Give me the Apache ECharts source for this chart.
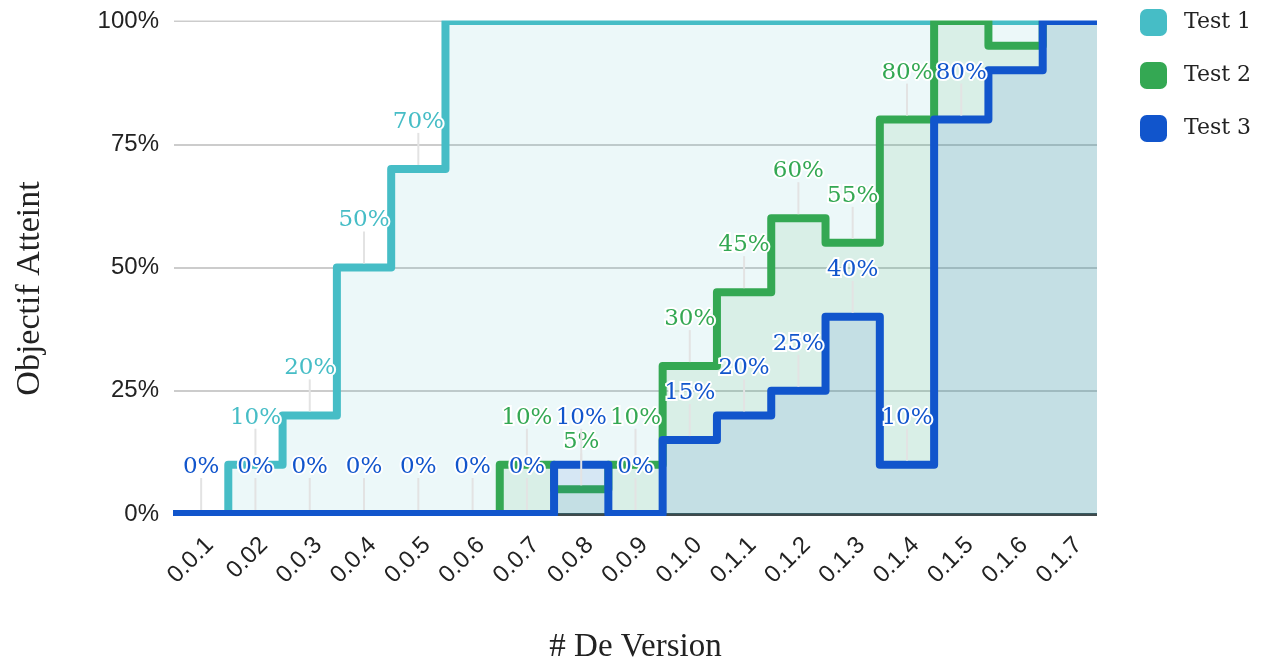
<!DOCTYPE html>
<html>
<head>
<meta charset="utf-8">
<script src="https://cdn.jsdelivr.net/npm/echarts@6/dist/echarts.min.js"></script>
<style>
  html, body { margin: 0; padding: 0; background: #ffffff; }
  #chart { width: 1275px; height: 664px; }
</style>
</head>
<body>
<div id="chart"></div>
<script>
// Versions along the x axis
const versions = ['0.0.1', '0.02', '0.0.3', '0.0.4', '0.0.5', '0.0.6', '0.0.7', '0.0.8', '0.0.9',
                  '0.1.0', '0.1.1', '0.1.2', '0.1.3', '0.1.4', '0.1.5', '0.1.6', '0.1.7'];

// Share of the objective reached (%) per version
const test1 = [0, 10, 20, 50, 70, 100, 100, 100, 100, 100, 100, 100, 100, 100, 100, 100, 100];
const test2 = [0, 0, 0, 0, 0, 0, 10, 5, 10, 30, 45, 60, 55, 80, 100, 95, 100];
const test3 = [0, 0, 0, 0, 0, 0, 0, 10, 0, 15, 20, 25, 40, 10, 80, 90, 100];

const seriesNames = ['Test 1', 'Test 2', 'Test 3'];
const seriesColors = ['#46bdc6', '#34a853', '#1155cc'];
const yTicks = [0, 25, 50, 75, 100];

const allValues = [test1, test2, test3];
const labelFont = '"DejaVu Serif", "Liberation Serif", serif';

// Plot area layout (pixels)
const W = 1275, H = 664;
const gridBox = { left: 174, right: 178, top: 21, bottom: 150 };
const plotL = gridBox.left, plotR = W - gridBox.right;
const plotT = gridBox.top, plotB = H - gridBox.bottom;

// Step path: each version holds its value across its whole band,
// so the first and last values are repeated at the band edges.
function stepData(values) {
  const pts = values.map((v, i) => [i, v]);
  pts.unshift([-0.5, values[0]]);
  pts.push([values.length - 0.5, values[values.length - 1]]);
  return pts;
}

// A value label is kept unless a later series repeats the same value
// at that version, or the value sits against the top of the plot.
function labelData(k) {
  const values = allValues[k];
  const out = [];
  values.forEach((v, i) => {
    if (v >= 90) return;
    for (let j = k + 1; j < allValues.length; j++) {
      if (allValues[j][i] === v) return;
    }
    out.push([i, v]);
  });
  return out;
}

const series = [];
allValues.forEach((values, k) => {
  series.push({
    name: seriesNames[k],
    type: 'line',
    xAxisIndex: 1,
    step: 'middle',
    data: stepData(values),
    showSymbol: false,
    symbol: 'none',
    color: seriesColors[k],
    lineStyle: { width: 8, color: seriesColors[k], join: 'round', cap: 'round' },
    areaStyle: { color: seriesColors[k], opacity: 0.1 },
    z: 2 + k
  });
});

allValues.forEach((values, k) => {
  const color = seriesColors[k];
  series.push({
    name: seriesNames[k] + ' labels',
    type: 'custom',
    xAxisIndex: 1,
    data: labelData(k),
    encode: { x: 0, y: 1 },
    z: 10 + k,
    renderItem: function (params, api) {
      const v = api.value(1);
      const pt = api.coord([api.value(0), v]);
      return {
        type: 'group',
        children: [
          {
            type: 'line',
            shape: { x1: pt[0], y1: pt[1] - 36, x2: pt[0], y2: pt[1] - 4 },
            style: { stroke: '#e3e3e3', lineWidth: 2 },
            z2: 0
          },
          {
            type: 'text',
            x: pt[0],
            y: pt[1] - 47,
            style: {
              text: v + '%',
              fill: color,
              font: '23px ' + labelFont,
              align: 'center',
              verticalAlign: 'middle',
              stroke: '#ffffff',
              lineWidth: 4
            },
            z2: 10
          }
        ]
      };
    }
  });
});

// White frame that trims the thick step lines to the plot rectangle
const trim = { type: 'rect', z: 6, silent: true, style: { fill: '#ffffff' } };
const frame = [
  Object.assign({}, trim, { shape: { x: plotL - 10, y: 0, width: plotR - plotL + 20, height: plotT - 0.5 } }),
  Object.assign({}, trim, { shape: { x: plotL - 10, y: 0, width: 9, height: plotB + 8 } }),
  Object.assign({}, trim, { shape: { x: plotR, y: 0, width: 10, height: plotB + 8 } }),
  Object.assign({}, trim, { shape: { x: plotL - 10, y: plotB + 2, width: plotR - plotL + 20, height: 6 } })
];

const chart = echarts.init(document.getElementById('chart'), null, { renderer: 'canvas' });
chart.setOption({
  animation: false,
  backgroundColor: '#ffffff',
  grid: Object.assign({ outerBoundsMode: 'none', containLabel: false }, gridBox),
  graphic: frame,
  legend: {
    data: seriesNames.map((n, k) => ({ name: n, itemStyle: { color: seriesColors[k] } })),
    orient: 'vertical',
    left: 1140,
    top: 9,
    padding: 0,
    icon: 'roundRect',
    itemWidth: 27,
    itemHeight: 27,
    itemGap: 26,
    selectedMode: false,
    z: 20,
    textStyle: {
      fontFamily: labelFont,
      fontSize: 22,
      color: '#222222',
      padding: [0, 0, 0, 12]
    }
  },
  xAxis: [
    {
      type: 'category',
      data: versions,
      boundaryGap: true,
      name: '# De Version',
      nameLocation: 'middle',
      nameGap: 117,
      nameTextStyle: { fontFamily: '"Liberation Serif", serif', fontSize: 33, color: '#222222' },
      axisLine: { show: true, lineStyle: { color: '#3f4a4c', width: 3 } },
      axisTick: { show: false },
      splitLine: { show: false },
      axisLabel: {
        rotate: 45,
        interval: 0,
        margin: 19,
        verticalAlign: 'top',
        fontFamily: '"Liberation Sans", Arial, sans-serif',
        fontSize: 24,
        color: '#222222'
      }
    },
    {
      type: 'value',
      min: -0.5,
      max: versions.length - 0.5,
      show: false
    }
  ],
  yAxis: {
    type: 'value',
    min: yTicks[0],
    max: yTicks[yTicks.length - 1],
    interval: yTicks[1] - yTicks[0],
    name: 'Objectif Atteint',
    nameLocation: 'middle',
    nameRotate: 90,
    nameGap: 127,
    nameTextStyle: {
      fontFamily: '"Liberation Serif", serif',
      fontSize: 34,
      color: '#222222',
      padding: [0, 42, 0, 0]
    },
    axisLine: { show: false },
    axisTick: { show: false },
    splitLine: { lineStyle: { color: '#cccccc', width: 2 } },
    axisLabel: {
      formatter: '{value}%',
      margin: 15,
      fontFamily: '"Liberation Sans", Arial, sans-serif',
      fontSize: 24,
      color: '#222222'
    }
  },
  series: series
});
</script>
</body>
</html>
